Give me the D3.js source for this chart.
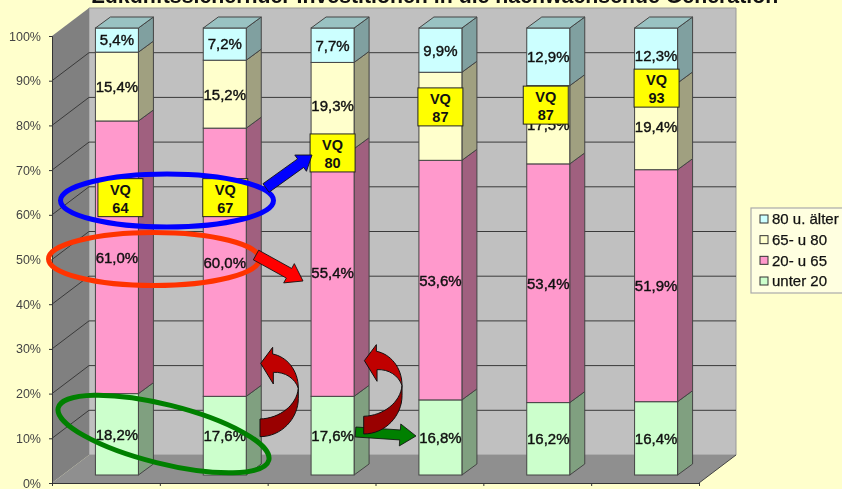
<!DOCTYPE html>
<html>
<head>
<meta charset="utf-8">
<script src="https://cdn.jsdelivr.net/npm/d3@7"></script>
<style>
  html, body { margin: 0; padding: 0; background: #ffffcc; overflow: hidden; }
  svg { display: block; font-family: "Liberation Sans", Arial, sans-serif; filter: blur(0.35px); }
</style>
</head>
<body>
<svg id="chart" width="842" height="489"></svg>
<script>
// values in percent, one array per age group
const columns = ['A', 'B', 'C', 'D', 'E', 'F'];
const seriesNames = ['unter 20', '20- u 65', '65- u 80', '80 u. älter'];
const under20 = [18.2, 17.6, 17.6, 16.8, 16.2, 16.4];
const from20to65 = [61.0, 60.0, 55.4, 53.6, 53.4, 51.9];
const from65to80 = [15.4, 15.2, 19.3, 19.7, 17.5, 19.4];
const over80 = [5.4, 7.2, 7.7, 9.9, 12.9, 12.3];
const yTicks = [0, 10, 20, 30, 40, 50, 60, 70, 80, 90, 100];
const vqValues = [64, 67, 80, 87, 87, 93];

const titleText = 'Zukunftssichernder Investitionen in die nachwachsende Generation';

const rows = columns.map((c, i) => ({
  column: c,
  [seriesNames[0]]: under20[i],
  [seriesNames[1]]: from20to65[i],
  [seriesNames[2]]: from65to80[i],
  [seriesNames[3]]: over80[i]
}));

// front, side and top colours per series
const frontColors = ['#ccffcc', '#ff99cc', '#ffffcc', '#ccffff'];
const sideColors = ['#80a080', '#a0607f', '#a0a080', '#80a0a0'];
const capColor = '#99c2c2';

const svg = d3.select('#chart');

const plotLeft = 52, plotRight = 699, plotTop = 36, plotBottom = 483;
const wallDx = 37, wallDy = -28;  // depth of the chart box
const barDx = 15, barDy = -11;    // depth of one bar
const barShiftX = 11, barShiftY = -8; // bars stand a bit inside the box
const barWidth = 43;

const x = d3.scaleBand().domain(columns).range([plotLeft, plotRight]);
const y = d3.scaleLinear().domain([0, 100]).range([plotBottom, plotTop]);
const xEdges = d3.scaleLinear().domain([0, columns.length]).range([plotLeft, plotRight]);

const line = d3.line();

// chart box
svg.append('path')
  .attr('d', line([[plotLeft + wallDx, y(100) + wallDy], [plotRight + wallDx, y(100) + wallDy], [plotRight + wallDx, y(0) + wallDy], [plotLeft + wallDx, y(0) + wallDy]]) + 'Z')
  .attr('fill', '#c0c0c0')
  .attr('stroke', '#999');
svg.append('path')
  .attr('d', line([[plotLeft, y(100)], [plotLeft + wallDx, y(100) + wallDy], [plotLeft + wallDx, y(0) + wallDy], [plotLeft, y(0)]]) + 'Z')
  .attr('fill', '#808080');
svg.append('path')
  .attr('d', line([[plotLeft, y(0)], [plotRight, y(0)], [plotRight + wallDx, y(0) + wallDy], [plotLeft + wallDx, y(0) + wallDy]]) + 'Z')
  .attr('fill', '#8f8f8f');

// gridlines across side wall and back wall
svg.append('g').selectAll('path')
  .data(yTicks.filter(d => d > 0 && d < 100))
  .join('path')
  .attr('d', d => line([[plotLeft, y(d)], [plotLeft + wallDx, y(d) + wallDy], [plotRight + wallDx, y(d) + wallDy]]))
  .attr('fill', 'none')
  .attr('stroke', '#3a3a3a')
  .attr('stroke-width', 1);

svg.append('path')
  .attr('d', line([[plotRight, y(0)], [plotRight + wallDx, y(0) + wallDy]]))
  .attr('stroke', '#444');

// axes
const yAxis = svg.append('g')
  .attr('transform', `translate(${plotLeft},0)`)
  .call(d3.axisLeft(y).tickValues(yTicks).tickFormat(d => d + '%').tickSize(3).tickPadding(8));
yAxis.selectAll('text').attr('font-size', 12.5).attr('font-family', 'inherit').attr('fill', '#444');
yAxis.selectAll('line, path').attr('stroke', '#333');

const xAxis = svg.append('g')
  .attr('transform', `translate(0,${plotBottom})`)
  .call(d3.axisBottom(xEdges).tickValues(d3.range(columns.length + 1)).tickFormat('').tickSize(3).tickSizeOuter(3));
xAxis.selectAll('line, path').attr('stroke', '#333');

// stacked bars
const stacked = d3.stack().keys(seriesNames)(rows);
const barX = d => x(d.data.column) + x.bandwidth() / 2 + barShiftX - barWidth / 2;
const barY = v => y(v) + barShiftY;

const layers = svg.append('g').selectAll('g')
  .data(stacked)
  .join('g');

layers.selectAll('path.side')
  .data((s, i) => s.map(d => ({ ...d, data: d.data, 0: d[0], 1: d[1], color: sideColors[i] })))
  .join('path')
  .attr('class', 'side')
  .attr('d', d => {
    const xr = barX(d) + barWidth;
    return line([[xr, barY(d[0])], [xr + barDx, barY(d[0]) + barDy], [xr + barDx, barY(d[1]) + barDy], [xr, barY(d[1])]]) + 'Z';
  })
  .attr('fill', d => d.color)
  .attr('stroke', '#444');

layers.selectAll('rect')
  .data((s, i) => s.map(d => ({ ...d, data: d.data, 0: d[0], 1: d[1], color: frontColors[i] })))
  .join('rect')
  .attr('x', barX)
  .attr('y', d => barY(d[1]))
  .attr('width', barWidth)
  .attr('height', d => barY(d[0]) - barY(d[1]))
  .attr('fill', d => d.color)
  .attr('stroke', '#444');

// bar caps
svg.append('g').selectAll('path')
  .data(stacked[3])
  .join('path')
  .attr('d', d => {
    const xl = barX(d), t = barY(d[1]);
    return line([[xl, t], [xl + barDx, t + barDy], [xl + barWidth + barDx, t + barDy], [xl + barWidth, t]]) + 'Z';
  })
  .attr('fill', capColor)
  .attr('stroke', '#444');

// value labels, the one fully under the VQ box in column D is not shown
const fmt = v => v.toFixed(1).replace('.', ',') + '%';
svg.append('g').selectAll('g')
  .data(stacked)
  .join('g')
  .selectAll('text')
  .data((s, i) => s.filter(d => !(i === 2 && d.data.column === 'D')))
  .join('text')
  .attr('x', d => barX(d) + barWidth / 2)
  .attr('y', d => barY((d[0] + d[1]) / 2))
  .attr('dy', '0.36em')
  .attr('text-anchor', 'middle')
  .attr('font-size', 15)
  .attr('fill', '#111')
  .attr('stroke', '#111')
  .attr('stroke-width', 0.4)
  .text(d => fmt(d[1] - d[0]));

// VQ boxes, top edge given in percent, x as offset from the bar
const vqTopPct = [66.3, 66.3, 76.3, 86.6, 87, 90.8];
const vqOffset = [2.5, -0.5, -1, -1, -3.5, -0.5];
const vqW = 45, vqH = 38;
const vq = svg.append('g').selectAll('g')
  .data(vqValues)
  .join('g')
  .attr('transform', (d, i) => `translate(${x(columns[i]) + x.bandwidth() / 2 + barShiftX - barWidth / 2 + vqOffset[i]},${barY(vqTopPct[i])})`);
vq.append('rect')
  .attr('width', vqW)
  .attr('height', vqH)
  .attr('fill', '#ffff00')
  .attr('stroke', '#222');
vq.append('text')
  .attr('x', vqW / 2).attr('y', 16)
  .attr('text-anchor', 'middle')
  .attr('font-size', 14.5).attr('font-weight', 'bold').attr('fill', '#111')
  .text('VQ');
vq.append('text')
  .attr('x', vqW / 2).attr('y', 34)
  .attr('text-anchor', 'middle')
  .attr('font-size', 14.5).attr('font-weight', 'bold').attr('fill', '#111')
  .text(d => d);

// hand drawn annotations on top of the chart
function blockArrow(from, to, shaft, head, headLen, fill) {
  const dx = to[0] - from[0], dy = to[1] - from[1];
  const len = Math.hypot(dx, dy);
  const a = Math.atan2(dy, dx) * 180 / Math.PI;
  svg.append('path')
    .attr('transform', `translate(${from[0]},${from[1]}) rotate(${a})`)
    .attr('d', line([[0, -shaft / 2], [len - headLen, -shaft / 2], [len - headLen, -head / 2], [len, 0],
      [len - headLen, head / 2], [len - headLen, shaft / 2], [0, shaft / 2]]) + 'Z')
    .attr('fill', fill)
    .attr('stroke', '#111')
    .attr('stroke-width', 0.8);
}

function ring(cx, cy, rx, ry, angle, color) {
  svg.append('ellipse')
    .attr('transform', `translate(${cx},${cy}) rotate(${angle})`)
    .attr('rx', rx).attr('ry', ry)
    .attr('fill', 'none')
    .attr('stroke', color)
    .attr('stroke-width', 5);
}

function curvedArrow(dx, dy) {
  const g = svg.append('g').attr('transform', `translate(${250 + dx},${340 + dy}) scale(${1 / 3})`);
  g.append('path')
    .attr('d', 'M145,145C140,195 90,235 30,237L30,290C95,290 145,235 145,175Z')
    .attr('fill', '#990000').attr('stroke', '#111').attr('stroke-width', 3);
  g.append('path')
    .attr('d', 'M32,70L68,22L68,42C110,50 145,90 145,145C135,115 105,95 70,97L70,132Z')
    .attr('fill', '#c00000').attr('stroke', '#111').attr('stroke-width', 3);
}

ring(167, 200.5, 106.5, 26.5, 0, '#0000ff');
ring(154, 259, 105.5, 26.5, 0, '#ff3300');
ring(163.5, 434, 108.5, 29.5, 14, '#008000');

blockArrow([266, 188], [312, 155], 10.5, 20, 14, '#0000ff');
blockArrow([256, 255], [303, 281], 11, 22, 16, '#ff0000');
blockArrow([355.5, 432], [416, 436], 10, 22, 16, '#008000');
curvedArrow(0, 0);
curvedArrow(103.7, -2.7);

// legend
const legend = svg.append('g').attr('transform', 'translate(751,208)');
legend.append('rect')
  .attr('width', 100).attr('height', 85)
  .attr('fill', '#ffffe0')
  .attr('stroke', '#aaa')
  .attr('stroke-width', 1.2);
const legendRow = d3.scaleLinear().domain([0, 3]).range([11, 73]);
const legendItems = legend.selectAll('g')
  .data(seriesNames.slice().reverse())
  .join('g')
  .attr('transform', (d, i) => `translate(0,${legendRow(i)})`);
legendItems.append('rect')
  .attr('x', 9).attr('y', -4)
  .attr('width', 8).attr('height', 8)
  .attr('fill', (d, i) => frontColors[3 - i])
  .attr('stroke', '#333');
legendItems.append('text')
  .attr('x', 21)
  .attr('dy', '0.36em')
  .attr('font-size', 15)
  .attr('fill', '#111')
  .attr('stroke', '#111')
  .attr('stroke-width', 0.25)
  .text(d => d);

// title, cut off at the top edge in the original as well
svg.append('text')
  .attr('x', 435)
  .attr('y', 3)
  .attr('text-anchor', 'middle')
  .attr('font-size', 21.3)
  .attr('font-weight', 'bold')
  .attr('fill', '#111')
  .text(titleText);
</script>
</body>
</html>
